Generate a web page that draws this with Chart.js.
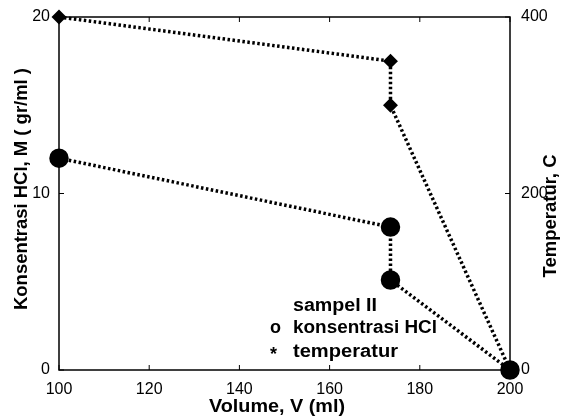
<!DOCTYPE html>
<html><head><meta charset="utf-8">
<script src="https://cdn.jsdelivr.net/npm/chart.js@4/dist/chart.umd.min.js"></script>
<style>html,body{margin:0;padding:0;background:#fff}#wrap{width:564px;height:419px}</style>
</head><body><div id="wrap"><canvas id="c" width="564" height="419"></canvas></div>
<script>
const volumeConc = [100, 173.5, 173.5, 200];
const concValues = [12, 8.1, 5.1, 0];
const volumeTemp = [100, 173.5, 173.5, 200];
const tempValues = [400, 350, 300, 0];
const xTicks = [100, 120, 140, 160, 180, 200];
const yLeftTicks = [0, 10, 20];
const yRightTicks = [0, 200, 400];
const legendLines = ["sampel II", "konsentrasi HCl", "temperatur"];
const legendSymbols = ["", "o", "*"];
const xTitle = "Volume, V (ml)";
const yLeftTitle = "Konsentrasi HCl, M ( gr/ml )";
const yRightTitle = "Temperatur, C";

const FONT = "'Liberation Sans', Arial, sans-serif";
const TICKFONT = "'Liberation Sans Narrow', 'Liberation Sans', Arial, sans-serif";

function drawFit(ctx, text, cx, cy, target, rot) {
  ctx.save();
  ctx.translate(cx, cy);
  if (rot) ctx.rotate(rot);
  const w = ctx.measureText(text).width;
  ctx.scale(target / w, 1);
  ctx.fillText(text, 0, 0);
  ctx.restore();
}

const decor = {
  id: 'decor',
  afterDraw(chart) {
    const ctx = chart.ctx, a = chart.chartArea;
    const x = chart.scales.x, yl = chart.scales.y, yr = chart.scales.y2;
    ctx.save();
    ctx.strokeStyle = '#000';
    ctx.lineWidth = 1.5;
    ctx.strokeRect(a.left, a.top, a.right - a.left, a.bottom - a.top);
    ctx.lineWidth = 1;
    xTicks.forEach(v => { const p = x.getPixelForValue(v);
      ctx.beginPath(); ctx.moveTo(p, a.bottom); ctx.lineTo(p, a.bottom - 5); ctx.stroke();
      ctx.beginPath(); ctx.moveTo(p, a.top); ctx.lineTo(p, a.top + 5); ctx.stroke(); });
    yLeftTicks.forEach(v => { const p = yl.getPixelForValue(v);
      ctx.beginPath(); ctx.moveTo(a.left, p); ctx.lineTo(a.left + 5, p); ctx.stroke(); });
    yRightTicks.forEach(v => { const p = yr.getPixelForValue(v);
      ctx.beginPath(); ctx.moveTo(a.right, p); ctx.lineTo(a.right - 5, p); ctx.stroke(); });
    ctx.fillStyle = '#000';
    ctx.font = 'bold 18px ' + FONT;
    ctx.textAlign = 'center'; ctx.textBaseline = 'middle';
    drawFit(ctx, xTitle, 277, 407, 136, 0);
    drawFit(ctx, yLeftTitle, 22, 189, 242, -Math.PI / 2);
    drawFit(ctx, yRightTitle, 551, 216, 123, -Math.PI / 2);
    ctx.textAlign = 'left';
    const ys = [306, 328, 352];
    const widths = [84, 144, 105];
    legendLines.forEach((t, i) => {
      drawFit(ctx, t, 293, ys[i], widths[i], 0);
      if (legendSymbols[i]) ctx.fillText(legendSymbols[i], 270, ys[i] + (i === 2 ? 3 : 0));
    });
    ctx.restore();
  }
};

new Chart(document.getElementById('c'), {
  type: 'scatter',
  data: {
    datasets: [
      { label: 'konsentrasi HCl', yAxisID: 'y',
        data: volumeConc.map((v, i) => ({ x: v, y: concValues[i] })),
        showLine: true, borderColor: '#000', borderWidth: 3.5, borderDash: [2.5, 2.5],
        pointStyle: 'circle', pointRadius: 8, pointBackgroundColor: '#000', pointBorderColor: '#000', clip: false },
      { label: 'temperatur', yAxisID: 'y2',
        data: volumeTemp.map((v, i) => ({ x: v, y: tempValues[i] })),
        showLine: true, borderColor: '#000', borderWidth: 3.5, borderDash: [2.5, 2.5],
        pointStyle: 'rectRot', pointRadius: 5, pointBackgroundColor: '#000', pointBorderColor: '#000', clip: false }
    ]
  },
  options: {
    responsive: false, animation: false, devicePixelRatio: 1,
    layout: { padding: { top: 17, left: 0, right: 0, bottom: 0 } },
    plugins: { legend: { display: false }, tooltip: { enabled: false } },
    scales: {
      x: { type: 'linear', min: 100, max: 200,
        afterBuildTicks: s => { s.ticks = xTicks.map(v => ({ value: v })); },
        afterFit: s => { s.height = 49; },
        grid: { display: false }, border: { display: false },
        ticks: { color: '#000', font: { family: TICKFONT, size: 16 }, padding: 2, maxRotation: 0 } },
      y: { type: 'linear', position: 'left', min: 0, max: 20,
        afterBuildTicks: s => { s.ticks = yLeftTicks.map(v => ({ value: v })); },
        afterFit: s => { s.width = 59; },
        grid: { display: false }, border: { display: false },
        ticks: { color: '#000', font: { family: TICKFONT, size: 16 }, padding: 1 } },
      y2: { type: 'linear', position: 'right', min: 0, max: 400,
        afterBuildTicks: s => { s.ticks = yRightTicks.map(v => ({ value: v })); },
        afterFit: s => { s.width = 54; },
        grid: { display: false }, border: { display: false },
        ticks: { color: '#000', font: { family: TICKFONT, size: 16 }, padding: 3 } }
    }
  },
  plugins: [decor]
});
</script></body></html>
